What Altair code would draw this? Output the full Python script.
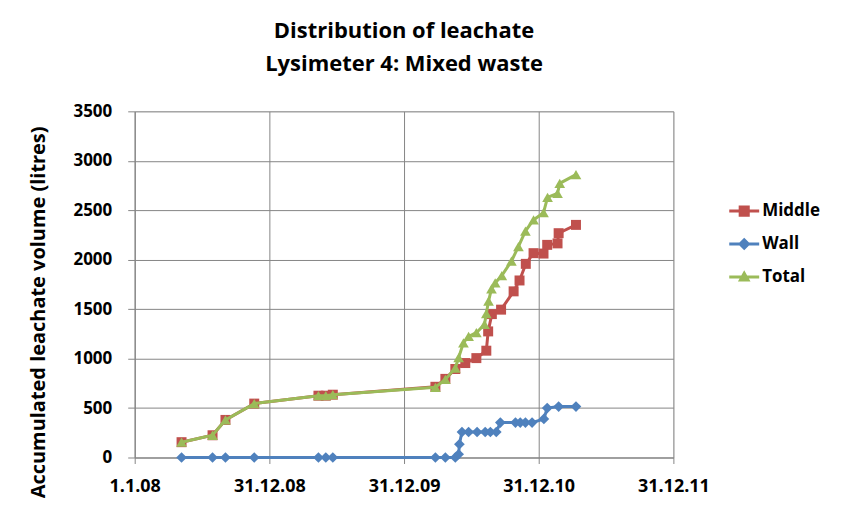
import altair as alt
import pandas as pd

series_names = ["Middle", "Wall", "Total"]
series_colors = ["#C0504D", "#4F81BD", "#9BBB59"]
series_shapes = ["square", "diamond", "triangle-up"]

middle_dates = ["2008-05-07", "2008-07-30", "2008-09-03", "2008-11-20", "2009-05-13", "2009-06-02",
                "2009-06-21", "2010-03-26", "2010-04-22", "2010-05-19", "2010-06-15", "2010-07-15",
                "2010-08-11", "2010-08-16", "2010-08-26", "2010-09-20", "2010-10-24", "2010-11-09",
                "2010-11-26", "2010-12-17", "2011-01-13", "2011-01-23", "2011-02-20", "2011-02-23",
                "2011-04-11"]
middle_vals = [155, 225, 380, 545, 625, 625, 635, 715, 795, 895, 955, 1005, 1080, 1275, 1450, 1495,
               1680, 1790, 1958, 2066, 2062, 2150, 2165, 2268, 2352]

wall_dates = ["2008-05-07", "2008-07-30", "2008-09-03", "2008-11-20", "2009-05-13", "2009-06-02",
              "2009-06-21", "2010-03-26", "2010-04-22", "2010-05-19", "2010-05-28", "2010-05-30",
              "2010-06-06", "2010-06-24", "2010-07-17", "2010-08-08", "2010-08-22", "2010-09-07",
              "2010-09-18", "2010-10-29", "2010-11-11", "2010-11-25", "2010-12-13", "2011-01-14",
              "2011-01-23", "2011-02-23", "2011-04-11"]
wall_vals = [0, 0, 0, 0, 0, 0, 0, 0, 0, 0, 33, 134, 258, 258, 258, 258, 258, 258, 353, 353, 353, 353,
             353, 390, 500, 515, 515]

total_dates = ["2008-05-07", "2008-07-30", "2008-09-03", "2008-11-20", "2009-05-13", "2009-06-02",
               "2009-06-21", "2010-03-26", "2010-04-22", "2010-05-19", "2010-05-28", "2010-06-10",
               "2010-06-24", "2010-07-15", "2010-08-06", "2010-08-11", "2010-08-17", "2010-08-25",
               "2010-09-04", "2010-09-22", "2010-10-18", "2010-11-06", "2010-11-25", "2010-12-17",
               "2011-01-13", "2011-01-24", "2011-02-20", "2011-02-26", "2011-04-11"]
total_vals = [155, 225, 380, 545, 625, 625, 635, 710, 790, 905, 1010, 1160, 1225, 1262, 1345, 1455,
              1580, 1705, 1765, 1840, 1985, 2133, 2290, 2402, 2475, 2630, 2671, 2772, 2860]

frames = []
for name, dates, vals in [("Middle", middle_dates, middle_vals),
                          ("Wall", wall_dates, wall_vals),
                          ("Total", total_dates, total_vals)]:
    frames.append(pd.DataFrame({"date": dates, "value": vals, "series": name}))
df = pd.concat(frames, ignore_index=True)

x_ticks = [alt.DateTime(year=2008, month=1, date=1), alt.DateTime(year=2008, month=12, date=31),
           alt.DateTime(year=2009, month=12, date=31), alt.DateTime(year=2010, month=12, date=31),
           alt.DateTime(year=2011, month=12, date=31)]

FONT = "Open Sans"
GRID = "#868686"

legend_paths = [
    "M-1,-0.1L1,-0.1L1,0.1L-1,0.1Z M-0.37,-0.37L0.37,-0.37L0.37,0.37L-0.37,0.37Z",
    "M-1,-0.1L1,-0.1L1,0.1L-1,0.1Z M0,-0.42L0.42,0L0,0.42L-0.42,0Z",
    "M-1,-0.1L1,-0.1L1,0.1L-1,0.1Z M0,-0.45L0.42,0.3L-0.42,0.3Z",
]

legend = alt.Legend(
    orient="none", legendX=596, legendY=85, title=None,
    labelFont=FONT, labelFontSize=17, labelFontWeight="bold", labelColor="#000",
    symbolSize=900, rowPadding=10, labelOffset=3, symbolStrokeWidth=0, symbolOpacity=1,
)

x_enc = alt.X("date:T",
              scale=alt.Scale(domain=[alt.DateTime(year=2008, month=1, date=1),
                                      alt.DateTime(year=2011, month=12, date=31)]),
              axis=alt.Axis(values=x_ticks, labelExpr="timeFormat(datum.value, '%-d.%-m.%y')",
                            title=None, labelFont=FONT, labelFontSize=18, labelFontWeight="bold",
                            labelColor="#000", labelPadding=14, labelFlush=False, labelOverlap=False,
                            grid=True, gridColor=GRID, domainColor=GRID, tickColor=GRID, tickSize=6))
y_enc = alt.Y("value:Q", scale=alt.Scale(domain=[0, 3500]),
              axis=alt.Axis(values=list(range(0, 3501, 500)), format="d",
                            title="Accumulated leachate volume (litres)",
                            titleFont=FONT, titleFontSize=20, titleFontWeight="bold", titleColor="#000",
                            titleX=-96, titleY=201, titleAngle=-90, titleBaseline="middle", titleAlign="center",
                            labelFont=FONT, labelFontSize=17, labelFontWeight="bold", labelColor="#000",
                            labelPadding=16, grid=True, gridColor=GRID, domainColor=GRID,
                            tickColor=GRID, tickSize=7))

layers = []
for name, shape, col in zip(series_names, series_shapes, series_colors):
    sub = alt.Chart(df[df["series"] == name])
    layers.append(sub.mark_line(strokeWidth=3, color=col).encode(x=x_enc, y=y_enc))
    size = 100 if shape == "square" else 115
    layers.append(sub.mark_point(shape=shape, filled=True, opacity=1, size=size, color=col).encode(
        x=x_enc, y=y_enc))

# legend-only layer (no marks drawn; legend entries come from explicit scale domains)
legend_layer = alt.Chart(df).transform_filter("datum.value < 0").mark_point(filled=True).encode(
    x=x_enc, y=y_enc,
    color=alt.Color("series:N", scale=alt.Scale(domain=series_names, range=series_colors), legend=legend),
    shape=alt.Shape("series:N", scale=alt.Scale(domain=series_names, range=legend_paths), legend=legend),
)
layers.append(legend_layer)

chart = alt.layer(*layers).properties(
    width=540, height=347,
    title=alt.TitleParams(["Distribution of leachate", "Lysimeter 4: Mixed waste"],
                          font=FONT, fontSize=22, fontWeight="bold", color="#000",
                          anchor="middle", lineHeight=34, offset=26),
    autosize=alt.AutoSizeParams(type="none"),
    padding={"left": 127, "top": 103, "right": 160, "bottom": 40},
).configure_view(stroke=None).configure(background="white")

chart.save("out.html", embed_options={"renderer": "svg", "actions": False})
